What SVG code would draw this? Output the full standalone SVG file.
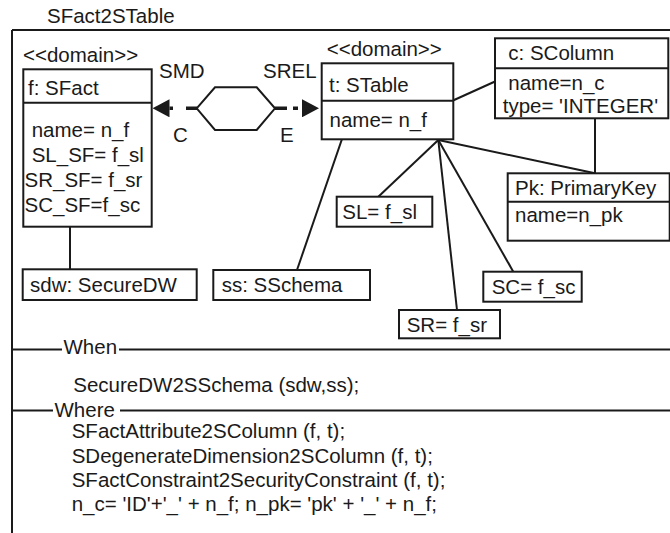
<svg xmlns="http://www.w3.org/2000/svg" width="670" height="533" viewBox="0 0 670 533">
<style>
text{font-family:"Liberation Sans",Arial,Helvetica,sans-serif;font-size:20.5px;fill:#1a1a1a}
.box{fill:#fff;stroke:#1a1a1a;stroke-width:2}
.div{stroke:#1a1a1a;stroke-width:2}
.frame{stroke:#1a1a1a;stroke-width:2;fill:none}
.conn{stroke:#1a1a1a;stroke-width:2;fill:none}
.dash{stroke:#1a1a1a;stroke-width:3.5;fill:none}
</style>
<defs>
<marker id="arrow" markerUnits="userSpaceOnUse" markerWidth="17" markerHeight="18" refX="0" refY="9" orient="auto">
<path d="M0,0 L17,9 L0,18 z" fill="#1a1a1a"/>
</marker>
</defs>
<rect width="670" height="533" fill="#fff"/>
<text x="47" y="23">SFact2STable</text>
<g id="frame">
<path class="frame" d="M12,30 H670 M12,30 V533"/>
<path class="frame" d="M12,349.5 H62 M119,349.5 H670"/>
<path class="frame" d="M12,410.5 H53 M120,410.5 H670"/>
<text x="63.5" y="354">When</text>
<text x="54.5" y="416.5">Where</text>
</g>
<g id="connectors">
<line class="conn" x1="70" y1="226.7" x2="70" y2="269"/>
<line class="conn" x1="453" y1="100.5" x2="495" y2="81.5"/>
<line class="conn" x1="595" y1="118.3" x2="595" y2="173.3"/>
<line class="conn" x1="438.3" y1="140" x2="378.3" y2="196.7"/>
<line class="conn" x1="438.3" y1="140" x2="457" y2="310"/>
<line class="conn" x1="438.3" y1="140" x2="513.3" y2="271.7"/>
<line class="conn" x1="438.3" y1="140" x2="595" y2="173.3"/>
<line class="conn" x1="342" y1="139" x2="297" y2="270"/>
<path class="dash" d="M197,108.3 H169.5" stroke-dasharray="11,13,4,20" marker-end="url(#arrow)"/>
<path class="dash" d="M275,108.3 H302" stroke-dasharray="12,6,5,20" marker-end="url(#arrow)"/>
</g>
<g id="relation">
<polygon points="196.7,108.3 215,87.3 256.7,87.3 275,108.3 256.7,130 215,130" fill="#fff" stroke="#1a1a1a" stroke-width="2"/>
<text x="159" y="78">SMD</text>
<text x="173" y="142">C</text>
<text x="263" y="78">SREL</text>
<text x="280" y="142">E</text>
</g>
<g id="sfact">
<text x="23" y="62">&lt;&lt;domain&gt;&gt;</text>
<rect class="box" x="23.3" y="69.3" width="128.4" height="157.4"/>
<line class="div" x1="23.3" y1="102.7" x2="151.7" y2="102.7"/>
<text x="28" y="95">f: SFact</text>
<text x="31.7" y="137">name= n_f</text>
<text x="31.7" y="162">SL_SF= f_sl</text>
<text x="24.5" y="187">SR_SF= f_sr</text>
<text x="24.5" y="212">SC_SF=f_sc</text>
</g>
<g id="stable">
<text x="326.7" y="56">&lt;&lt;domain&gt;&gt;</text>
<rect class="box" x="321.7" y="63.3" width="131.6" height="76"/>
<line class="div" x1="321.7" y1="100.7" x2="453.3" y2="100.7"/>
<text x="329" y="91.5">t: STable</text>
<text x="329.5" y="127">name= n_f</text>
</g>
<g id="scolumn">
<rect class="box" x="495" y="38.3" width="173.3" height="80"/>
<line class="div" x1="495" y1="68.3" x2="668.3" y2="68.3"/>
<text x="508.3" y="60">c: SColumn</text>
<text x="508.3" y="90">name=n_c</text>
<text x="502.7" y="113">type= 'INTEGER'</text>
</g>
<g id="primarykey">
<rect class="box" x="507.7" y="173.3" width="162" height="67.4"/>
<line class="div" x1="507.7" y1="201.7" x2="670" y2="201.7"/>
<text x="515" y="195">Pk: PrimaryKey</text>
<text x="515" y="222">name=n_pk</text>
</g>
<g id="sl">
<rect class="box" x="336.7" y="196.7" width="95.6" height="30"/>
<text x="342.3" y="218.5">SL= f_sl</text>
</g>
<g id="sc">
<rect class="box" x="483.3" y="271.7" width="98.4" height="30"/>
<text x="491.7" y="293.5">SC= f_sc</text>
</g>
<g id="sr">
<rect class="box" x="399" y="310" width="101" height="28.3"/>
<text x="406.7" y="331.5">SR= f_sr</text>
</g>
<g id="sschema">
<rect class="box" x="213.3" y="270" width="156.7" height="30"/>
<text x="221.7" y="292">ss: SSchema</text>
</g>
<g id="securedw">
<rect class="box" x="22.7" y="269.3" width="174" height="30.7"/>
<text x="30" y="292">sdw: SecureDW</text>
</g>
<g id="when">
<text x="73.3" y="391.5">SecureDW2SSchema (sdw,ss);</text>
</g>
<g id="where">
<text x="71.7" y="438">SFactAttribute2SColumn (f, t);</text>
<text x="71.7" y="462.5">SDegenerateDimension2SColumn (f, t);</text>
<text x="71.7" y="487">SFactConstraint2SecurityConstraint (f, t);</text>
<text x="71.7" y="511">n_c= 'ID'+'_' + n_f; n_pk= 'pk' + '_' + n_f;</text>
</g>
</svg>
